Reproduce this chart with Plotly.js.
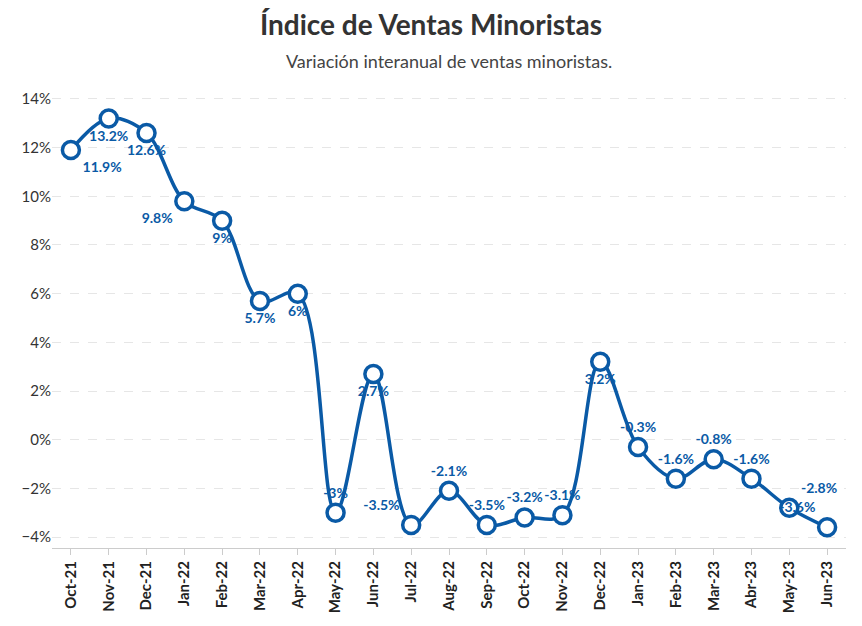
<!DOCTYPE html>
<html>
<head>
<meta charset="utf-8">
<script src="https://cdn.plot.ly/plotly-3.0.1.min.js"></script>
<style>body{margin:0;background:#fff}</style>
</head>
<body>
<div id="chart" style="width:862px;height:626px"></div>
<script>
const months = ['Oct-21','Nov-21','Dec-21','Jan-22','Feb-22','Mar-22','Apr-22','May-22','Jun-22','Jul-22','Aug-22',
  'Sep-22','Oct-22','Nov-22','Dec-22','Jan-23','Feb-23','Mar-23','Abr-23','May-23','Jun-23'];
const ventas = [11.9,13.2,12.6,9.8,9,5.7,6,-3,2.7,-3.5,-2.1,-3.5,-3.2,-3.1,3.2,-0.3,-1.6,-0.8,-1.6,-2.8,-3.6];
const labelPos = ['bottom right','bottom center','bottom center','bottom left','bottom center','bottom center','bottom center',
  'top center','bottom center','top left','top center','top center','top center','top center','bottom center',
  'top center','top center','top center','top center','top right','top left'];

const blue = '#0a5aa6';
const trace = {
  x: months.map((m, i) => i),
  y: ventas,
  mode: 'lines+markers+text',
  type: 'scatter',
  line: {shape: 'spline', smoothing: 1, color: blue, width: 3.5},
  marker: {size: 17, color: '#fff', line: {color: blue, width: 3.5}},
  text: ventas.map(v => v + '%'),
  textposition: labelPos,
  textfont: {color: blue, size: 14, family: 'Lato', weight: 'bold'},
  cliponaxis: false,
  hoverinfo: 'skip'
};

const layout = {
  width: 862, height: 626,
  margin: {l: 52, r: 16, t: 88, b: 78},
  paper_bgcolor: '#fff', plot_bgcolor: '#fff',
  font: {family: 'Lato', color: '#333'},
  showlegend: false,
  title: {text: '<b>Índice de Ventas Minoristas</b>', x: 0.5, y: 0.975, yanchor: 'top', font: {size: 28, color: '#333'}},
  annotations: [{text: 'Variación interanual de ventas minoristas.', xref: 'paper', yref: 'paper', x: 0.5, y: 1,
    yshift: 40, showarrow: false, font: {size: 18, color: '#444'}}],
  xaxis: {
    range: [-0.5, 20.5], tickvals: months.map((m, i) => i), ticktext: months, tickangle: -90,
    tickfont: {size: 15, color: '#222', weight: 'bold'}, showgrid: false, zeroline: false,
    showline: true, linecolor: '#ccc', ticks: 'outside', ticklen: 6, tickcolor: '#ccc'
  },
  yaxis: {
    range: [-4.45, 14.45], dtick: 2, ticksuffix: '%', tickfont: {size: 15, color: '#333'},
    gridcolor: '#e6e6e6', griddash: 'dash', zeroline: false
  }
};

Plotly.newPlot('chart', [trace], layout, {displayModeBar: false});
</script>
</body>
</html>
